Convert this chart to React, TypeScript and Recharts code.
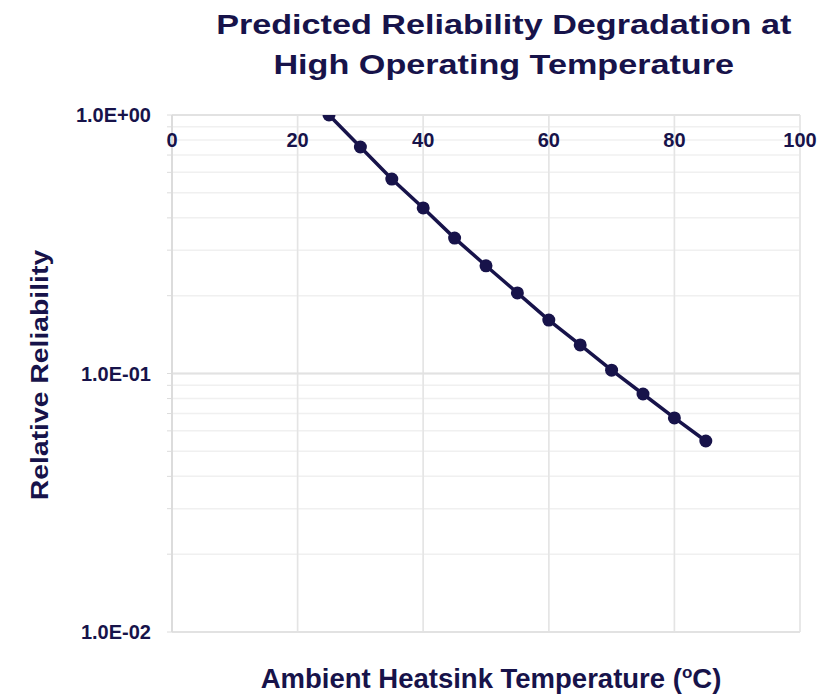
import React from 'react';
import { LineChart, Line, XAxis, YAxis, CartesianGrid, ReferenceLine } from 'recharts';

// Ambient heatsink temperature (°C)
const temps = [25, 30, 35, 40, 45, 50, 55, 60, 65, 70, 75, 80, 85];
// Relative reliability (log scale)
const reliability = [1.0, 0.752, 0.565, 0.437, 0.334, 0.261, 0.205, 0.161, 0.129, 0.103, 0.0833, 0.0673, 0.0548];

const xTicks = [0, 20, 40, 60, 80, 100];
const yTicks = [
  0.01, 0.02, 0.03, 0.04, 0.05, 0.06, 0.07, 0.08, 0.09,
  0.1, 0.2, 0.3, 0.4, 0.5, 0.6, 0.7, 0.8, 0.9, 1,
];
const yMajor = [0.01, 0.1, 1];
const yMajorLabels: Record<string, string> = {
  '0.01': '1.0E-02',
  '0.1': '1.0E-01',
  '1': '1.0E+00',
};

const data = temps.map((t, i) => ({ temp: t, rel: reliability[i] }));

const NAVY = '#17134a';
const FONT = '"Liberation Sans", Arial, sans-serif';

const XTick = (props: any) => {
  const { x, y, payload } = props;
  return (
    <text x={x} y={y} dy={40} textAnchor="middle" fill={NAVY}
      style={{ fontFamily: FONT, fontWeight: 'bold', fontSize: 20 }}>
      {payload.value}
    </text>
  );
};

const YTick = (props: any) => {
  const { x, y, payload } = props;
  const label = yMajorLabels[String(payload.value)];
  if (!label) return null;
  return (
    <text x={x} y={y} dx={-14} dy={7} textAnchor="end" fill={NAVY}
      style={{ fontFamily: FONT, fontWeight: 'bold', fontSize: 20 }}>
      {label}
    </text>
  );
};

export default function App() {
  return (
    <div style={{ position: 'absolute', left: 0, top: 0, width: 836, height: 696, background: '#fff', fontFamily: FONT }}>
      <div style={{ position: 'absolute', left: 0, width: 1008, top: 5, textAlign: 'center', color: NAVY, fontWeight: 'bold', fontSize: 28, lineHeight: '40px' }}>
        <div style={{ display: 'inline-block', transform: 'scaleX(1.22)' }}>
          Predicted Reliability Degradation at<br />High Operating Temperature
        </div>
      </div>
      <div style={{ position: 'absolute', left: 0, width: 982, top: 663, textAlign: 'center', color: NAVY, fontWeight: 'bold', fontSize: 27.5 }}>
        Ambient Heatsink Temperature (<sup style={{ fontSize: 17 }}>o</sup>C)
      </div>
      <div style={{ position: 'absolute', left: 40, top: 375, width: 0, height: 0 }}>
        <div style={{ position: 'absolute', transform: 'translate(-50%, -50%) rotate(-90deg) scaleX(1.18)', whiteSpace: 'nowrap', color: NAVY, fontWeight: 'bold', fontSize: 24 }}>
          Relative Reliability
        </div>
      </div>
      <LineChart width={836} height={696} data={data} margin={{ top: 85, right: 36, bottom: 64, left: 0 }}>
        <CartesianGrid stroke="#f0f0f0" strokeWidth={1.5} />
        <XAxis
          dataKey="temp"
          type="number"
          orientation="top"
          domain={[0, 100]}
          ticks={xTicks}
          height={30}
          axisLine={false}
          tickLine={false}
          tick={<XTick />}
          interval={0}
        />
        <YAxis
          scale="log"
          domain={[0.01, 1]}
          ticks={yTicks}
          width={172}
          axisLine={{ stroke: '#dcdcdc', strokeWidth: 2 }}
          tickLine={{ stroke: '#dcdcdc' }}
          tickSize={5}
          tick={<YTick />}
          interval={0}
          allowDataOverflow
        />
        {xTicks.map((v) => (
          <ReferenceLine key={'x' + v} x={v} stroke="#e4e4e4" strokeWidth={1.5} />
        ))}
        {yMajor.map((v) => (
          <ReferenceLine key={'y' + v} y={v} stroke="#e2e2e2" strokeWidth={2} />
        ))}
        <Line
          dataKey="rel"
          stroke={NAVY}
          strokeWidth={3.5}
          dot={{ r: 6.5, fill: NAVY, stroke: NAVY, strokeWidth: 0 }}
          isAnimationActive={false}
        />
      </LineChart>
    </div>
  );
}
